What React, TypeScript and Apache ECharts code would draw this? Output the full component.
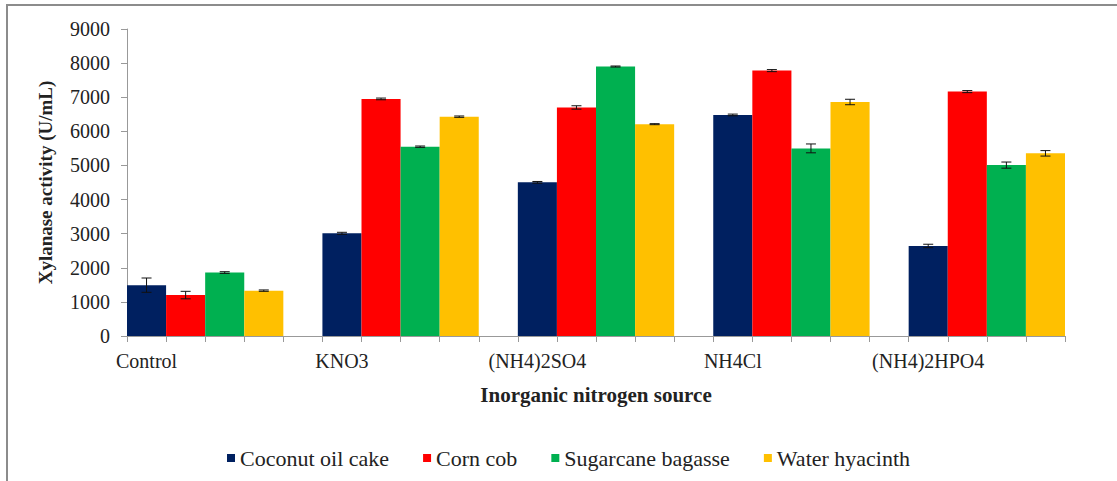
import React, { useEffect, useRef } from "react";
import * as echarts from "echarts";

const categories = ["Control", "KNO3", "(NH4)2SO4", "NH4Cl", "(NH4)2HPO4"];
const seriesNames = ["Coconut oil cake", "Corn cob", "Sugarcane bagasse", "Water hyacinth"];
const coconutOilCake = [1490, 3010, 4505, 6480, 2640];
const cornCob = [1200, 6950, 6700, 7780, 7165];
const sugarcaneBagasse = [1860, 5550, 7900, 5500, 5010];
const waterHyacinth = [1330, 6430, 6210, 6860, 5355];
const coconutErr = [210, 30, 25, 25, 50];
const cornErr = [110, 25, 50, 30, 30];
const sugarErr = [25, 20, 15, 130, 90];
const waterErr = [20, 20, 15, 80, 80];
const colors = ["#002060", "#FF0000", "#00B050", "#FFC000"];
const yMin = 0;
const yMax = 9000;
const yInterval = 1000;

const values = [coconutOilCake, cornCob, sugarcaneBagasse, waterHyacinth];
const errors = [coconutErr, cornErr, sugarErr, waterErr];

const SLOTS_PER_GROUP = 5;
const slotCount = categories.length * SLOTS_PER_GROUP - 1;
const slotIds = Array.from({ length: slotCount }, (_, i) => "s" + i);
const slotLabels = slotIds.map((_, i) =>
  i % SLOTS_PER_GROUP === 0 ? categories[i / SLOTS_PER_GROUP] : ""
);

const FONT = "Liberation Serif, Times New Roman, serif";

export default function App() {
  const ref = useRef<HTMLDivElement>(null);

  useEffect(() => {
    if (!ref.current) return;
    const chart = echarts.init(ref.current, undefined, { renderer: "svg" });

    const barSeries = seriesNames.map((name, s) => {
      const data: any[] = slotIds.map(() => "-");
      categories.forEach((_, g) => {
        data[g * SLOTS_PER_GROUP + s] = values[s][g];
      });
      return {
        name,
        type: "bar",
        data,
        barWidth: "100%",
        barGap: "-100%",
        barCategoryGap: 0,
        itemStyle: { color: colors[s] },
      };
    });

    const errData: number[][] = [];
    seriesNames.forEach((_, s) => {
      categories.forEach((__, g) => {
        errData.push([g * SLOTS_PER_GROUP + s, values[s][g], errors[s][g]]);
      });
    });

    const errorSeries = {
      type: "custom",
      name: "error",
      data: errData,
      encode: { x: 0, y: 1 },
      z: 10,
      silent: true,
      renderItem: (params: any, api: any) => {
        const x = api.value(0);
        const v = api.value(1);
        const e = api.value(2);
        const hi = api.coord([x, v + e]);
        const lo = api.coord([x, v - e]);
        const half = 5;
        const style = { stroke: "#111", lineWidth: 1 };
        return {
          type: "group",
          children: [
            { type: "line", shape: { x1: hi[0], y1: hi[1], x2: lo[0], y2: lo[1] }, style },
            { type: "line", shape: { x1: hi[0] - half, y1: hi[1], x2: hi[0] + half, y2: hi[1] }, style },
            { type: "line", shape: { x1: lo[0] - half, y1: lo[1], x2: lo[0] + half, y2: lo[1] }, style },
          ],
        };
      },
    };

    chart.setOption({
      animation: false,
      backgroundColor: "#ffffff",
      textStyle: { fontFamily: FONT, color: "#222" },
      grid: { left: 127, right: 52, top: 29, bottom: 145, containLabel: false },
      legend: {
        data: seriesNames,
        left: 222,
        top: 442,
        icon: "rect",
        itemWidth: 8,
        itemHeight: 8,
        itemGap: 34,
        textStyle: { fontFamily: FONT, fontSize: 22, color: "#222" },
      },
      xAxis: {
        type: "category",
        data: slotIds,
        boundaryGap: true,
        name: "Inorganic nitrogen source",
        nameLocation: "middle",
        nameGap: 48,
        nameTextStyle: { fontFamily: FONT, fontSize: 21, fontWeight: "bold", color: "#222" },
        axisLine: { show: true, lineStyle: { color: "#999", width: 1 } },
        axisTick: { show: true, interval: 0, length: 6, lineStyle: { color: "#999" } },
        axisLabel: {
          interval: 0,
          margin: 15,
          fontFamily: FONT,
          fontSize: 20,
          color: "#222",
          formatter: (_v: string, i: number) => slotLabels[i],
        },
        splitLine: { show: false },
      },
      yAxis: {
        type: "value",
        min: yMin,
        max: yMax,
        interval: yInterval,
        name: "Xylanase activity (U/mL)",
        nameLocation: "middle",
        nameGap: 72,
        nameTextStyle: { fontFamily: FONT, fontSize: 19, fontWeight: "bold", color: "#222" },
        axisLine: { show: true, lineStyle: { color: "#999", width: 1 } },
        axisTick: { show: true, length: 6, lineStyle: { color: "#999" } },
        axisLabel: {
          margin: 17,
          fontFamily: FONT,
          fontSize: 20,
          color: "#222",
          formatter: (v: number) => String(v),
        },
        splitLine: { show: false },
      },
      series: [...barSeries, errorSeries],
    });

    return () => chart.dispose();
  }, []);

  return (
    <div style={{ position: "fixed", left: 0, top: 0, width: 1117, height: 481, background: "#fff" }}>
      <div ref={ref} style={{ position: "absolute", left: 0, top: 0, width: 1117, height: 481 }} />
      <div
        style={{
          position: "absolute",
          left: 6,
          top: 4,
          width: 1111,
          height: 477,
          borderTop: "2px solid #8c8c8c",
          borderLeft: "2px solid #8c8c8c",
          boxSizing: "border-box",
          pointerEvents: "none",
        }}
      />
    </div>
  );
}
